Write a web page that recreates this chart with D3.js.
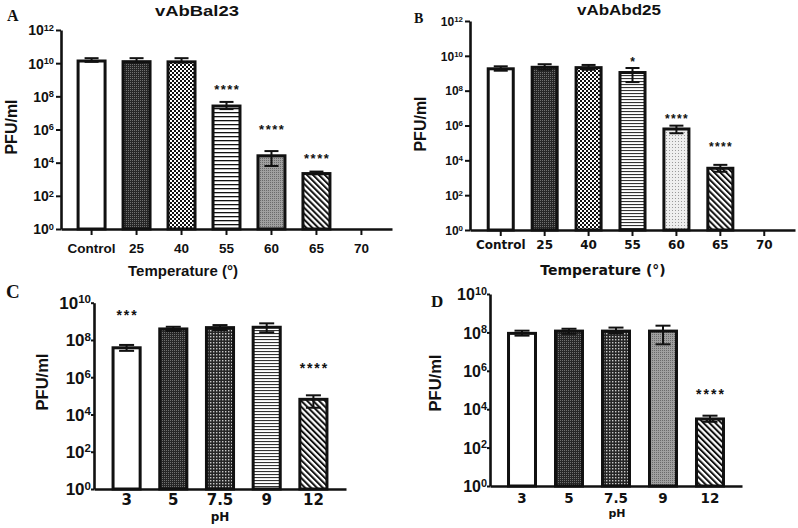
<!DOCTYPE html>
<html>
<head>
<meta charset="utf-8">
<script src="https://cdn.jsdelivr.net/npm/d3@7"></script>
<style>
  html, body { margin: 0; padding: 0; background: #fff; }
  svg { display: block; }
</style>
</head>
<body>
<svg id="chart" width="798" height="528"></svg>
<script>
// ---------------- DATA ----------------
const tempCategories = ["Control", "25", "40", "55", "60", "65", "70"];
const phCategories = ["3", "5", "7.5", "9", "12"];
const tempTickExponents = [0, 2, 4, 6, 8, 10, 12];
const phTickExponents = [0, 2, 4, 6, 8, 10];

// Panel A: vAbBal23 vs temperature (PFU/ml)
const bal23TempMean  = [1.35e10, 1.23e10, 1.2e10, 2.6e7, 2.6e4, 2.2e3, null];
const bal23TempUpper = [2.0e10, 2.0e10, 2.0e10, 4.6e7, 5.0e4, 2.9e3, null];
const bal23TempLower = [1.2e10, 1.1e10, 1.1e10, 1.7e7, 6.3e3, 2.0e3, null];
const bal23TempSig   = ["", "", "", "****", "****", "****", ""];
const bal23TempSigAt = [null, null, null, 3.6e8, 1.4e6, 2.5e4, null];

// Panel B: vAbAbd25 vs temperature
const abd25TempMean  = [1.8e9, 2.2e9, 2.1e9, 1.1e9, 6.3e5, 3.5e3, null];
const abd25TempUpper = [2.5e9, 3.3e9, 3.0e9, 2.0e9, 9.8e5, 5.5e3, null];
const abd25TempLower = [1.4e9, 1.6e9, 1.6e9, 3.1e8, 3.6e5, 2.2e3, null];
const abd25TempSig   = ["", "", "", "*", "****", "****", ""];
const abd25TempSigAt = [null, null, null, 5.9e9, 3.5e6, 8.7e4, null];

// Panel C: pH (vAbBal23)
const bal23PhMean  = [3.8e7, 3.9e8, 4.6e8, 4.8e8, 6.5e4];
const bal23PhUpper = [5.4e7, 5.1e8, 6.3e8, 7.8e8, 1.07e5];
const bal23PhLower = [2.6e7, 3.0e8, 3.4e8, 2.6e8, 2.3e4];
const bal23PhSig   = ["***", "", "", "", "****"];
const bal23PhSigAt = [2.9e9, null, null, null, 4.6e6];

// Panel D: pH (vAbAbd25)
const abd25PhMean  = [8.9e7, 1.17e8, 1.17e8, 1.17e8, 3.1e3];
const abd25PhUpper = [1.23e8, 1.55e8, 1.78e8, 2.24e8, 4.6e3];
const abd25PhLower = [6.8e7, 8.5e7, 8.9e7, 2.4e7, 2.2e3];
const abd25PhSig   = ["", "", "", "", "****"];
const abd25PhSigAt = [null, null, null, null, 8.1e4];

// ---------------- DRAWING ----------------
const svg = d3.select("#chart");
const defs = svg.append("defs");
const ARIAL = "'Liberation Sans', Arial, sans-serif";
const DEJAVU = "'DejaVu Sans', sans-serif";
const TIMES = "'Liberation Serif', 'Times New Roman', serif";

function pattern(id, w, h, draw, transform) {
  const p = defs.append("pattern").attr("id", id)
    .attr("patternUnits", "userSpaceOnUse").attr("width", w).attr("height", h);
  if (transform) p.attr("patternTransform", transform);
  draw(p);
}
pattern("p-dark", 2, 2, p => {
  p.append("rect").attr("width", 2).attr("height", 2).attr("fill", "#262626");
  p.append("rect").attr("width", 1).attr("height", 1).attr("fill", "#707070");
});
pattern("p-checker", 4, 4, p => {
  p.append("rect").attr("width", 4).attr("height", 4).attr("fill", "#fff");
  p.append("rect").attr("width", 2).attr("height", 2).attr("fill", "#111");
  p.append("rect").attr("x", 2).attr("y", 2).attr("width", 2).attr("height", 2).attr("fill", "#111");
});
pattern("p-darkcheck", 3, 3, p => {
  p.append("rect").attr("width", 3).attr("height", 3).attr("fill", "#262626");
  p.append("rect").attr("width", 1.4).attr("height", 1.4).attr("fill", "#c8c8c8");
});
pattern("p-hlines4", 4, 4, p => {
  p.append("rect").attr("width", 4).attr("height", 4).attr("fill", "#fff");
  p.append("rect").attr("width", 4).attr("height", 1.3).attr("fill", "#111");
});
pattern("p-hlines3", 3, 3, p => {
  p.append("rect").attr("width", 3).attr("height", 3).attr("fill", "#fff");
  p.append("rect").attr("width", 3).attr("height", 1.1).attr("fill", "#333");
});
pattern("p-graydots", 2, 2, p => {
  p.append("rect").attr("width", 2).attr("height", 2).attr("fill", "#a0a0a0");
  p.append("rect").attr("width", 1).attr("height", 1).attr("fill", "#6a6a6a");
});
pattern("p-lightdots", 3, 3, p => {
  p.append("rect").attr("width", 3).attr("height", 3).attr("fill", "#eeeeee");
  p.append("rect").attr("width", 1).attr("height", 1).attr("fill", "#9a9a9a");
});
pattern("p-diag", 4.2, 4.2, p => {
  p.append("rect").attr("width", 4.2).attr("height", 4.2).attr("fill", "#fff");
  p.append("rect").attr("width", 2).attr("height", 4.2).attr("fill", "#111");
}, "rotate(-45)");

function drawPanel(cfg) {
  const g = svg.append("g");
  const x = d3.scaleBand().domain(cfg.categories)
    .range([cfg.x0, cfg.x1]).paddingInner(cfg.pi).paddingOuter(cfg.po);
  const y = d3.scaleLog().domain([1, Math.pow(10, cfg.maxExp)])
    .range([cfg.yBottom, cfg.yTop]);

  const rows = cfg.categories.map((c, i) => ({
    c, v: cfg.mean[i], hi: cfg.upper[i], lo: cfg.lower[i],
    sig: cfg.sig[i], sigAt: cfg.sigAt[i], fill: cfg.fills[i]
  }));
  const valid = rows.filter(r => r.v != null);
  g.selectAll("rect.bar").data(valid).join("rect").attr("class", "bar")
    .attr("x", d => x(d.c)).attr("width", x.bandwidth())
    .attr("y", d => y(d.v)).attr("height", d => y(1) - y(d.v))
    .attr("fill", d => d.fill).attr("stroke", "#111").attr("stroke-width", cfg.barStroke);

  const cap = cfg.cap;
  const cx = d => x(d.c) + x.bandwidth() / 2;
  const eb = g.selectAll("g.err").data(valid).join("g").attr("class", "err")
    .attr("stroke", "#111").attr("stroke-width", 2);
  eb.append("line").attr("x1", cx).attr("x2", cx)
    .attr("y1", d => y(d.lo)).attr("y2", d => y(d.hi));
  eb.append("line").attr("x1", d => cx(d) - cap / 2).attr("x2", d => cx(d) + cap / 2)
    .attr("y1", d => y(d.hi)).attr("y2", d => y(d.hi));
  eb.append("line").attr("x1", d => cx(d) - cap / 2).attr("x2", d => cx(d) + cap / 2)
    .attr("y1", d => y(d.lo)).attr("y2", d => y(d.lo));

  g.selectAll("text.sig").data(rows.filter(r => r.sig)).join("text").attr("class", "sig")
    .attr("x", d => cx(d) + cfg.sigSpacing / 2)
    .attr("y", d => y(d.sigAt) + cfg.sigSize * 0.55)
    .attr("text-anchor", "middle")
    .attr("font-family", ARIAL).attr("font-weight", "bold")
    .attr("font-size", cfg.sigSize).attr("letter-spacing", cfg.sigSpacing)
    .attr("fill", "#111").text(d => d.sig);

  const yAxis = d3.axisLeft(y)
    .tickValues(cfg.tickExps.map(e => Math.pow(10, e)))
    .tickSizeInner(cfg.yTickSize).tickSizeOuter(0).tickPadding(cfg.yTickPad);
  const ya = g.append("g").attr("transform", `translate(${cfg.x0},0)`).call(yAxis);
  ya.select(".domain").attr("stroke", "#111").attr("stroke-width", 2.6);
  ya.selectAll(".tick line").attr("stroke", "#111").attr("stroke-width", 2);
  ya.selectAll(".tick text").each(function(d) {
    const t = d3.select(this);
    const e = Math.round(Math.log10(d));
    t.text(null).attr("dy", "0.35em")
      .attr("font-family", ARIAL).attr("font-weight", "bold")
      .attr("font-size", cfg.yTickFont).attr("fill", "#111");
    t.append("tspan").text("10");
    t.append("tspan").attr("dy", "-0.5em").attr("font-size", cfg.yTickFont * cfg.supScale).text(e);
  });

  const xAxis = d3.axisBottom(x).tickSizeInner(cfg.xTickSize).tickSizeOuter(0);
  const xa = g.append("g").attr("transform", `translate(0,${cfg.yBottom})`).call(xAxis);
  xa.select(".domain").attr("stroke", "#111").attr("stroke-width", 2.6);
  xa.selectAll(".tick line").attr("stroke", "#111").attr("stroke-width", 2);
  xa.selectAll(".tick text").attr("y", cfg.xLabelOffset).attr("dy", 0)
    .attr("font-family", cfg.xTickFamily).attr("font-weight", "bold")
    .attr("font-size", cfg.xTickFont).attr("fill", "#111");

  g.append("text").attr("x", cfg.xTitleX).attr("y", cfg.xTitleY)
    .attr("text-anchor", "middle").attr("font-family", cfg.xTitleFamily)
    .attr("font-weight", "bold").attr("font-size", cfg.xTitleFont).attr("fill", "#111")
    .text(cfg.xTitle);

  g.append("text").attr("transform", `translate(${cfg.yTitleX},${cfg.yTitleY}) rotate(-90)`)
    .attr("text-anchor", "middle").attr("font-family", ARIAL)
    .attr("font-weight", "bold").attr("font-size", cfg.yTitleFont).attr("fill", "#111")
    .text("PFU/ml");

  if (cfg.title) {
    g.append("text").attr("x", cfg.titleX).attr("y", cfg.titleY)
      .attr("text-anchor", "middle").attr("font-family", ARIAL)
      .attr("font-weight", "bold").attr("font-size", 14).attr("fill", "#111")
      .attr("textLength", cfg.titleLen).attr("lengthAdjust", "spacingAndGlyphs")
      .text(cfg.title);
  }
  g.append("text").attr("x", cfg.letterX).attr("y", cfg.letterY)
    .attr("font-family", TIMES).attr("font-weight", "bold")
    .attr("font-size", cfg.letterFont).attr("fill", "#111")
    .text(cfg.letter);
}

drawPanel({
  categories: tempCategories, mean: bal23TempMean, upper: bal23TempUpper, lower: bal23TempLower,
  sig: bal23TempSig, sigAt: bal23TempSigAt,
  fills: ["#fff", "url(#p-dark)", "url(#p-checker)", "url(#p-hlines4)", "url(#p-graydots)", "url(#p-diag)", "#fff"],
  x0: 61, x1: 392, pi: 0.4, po: 0.38, yTop: 30, yBottom: 229, maxExp: 12, tickExps: tempTickExponents,
  barStroke: 3, cap: 14, sigSize: 13, sigSpacing: 1.5,
  yTickSize: 5, yTickPad: 2, yTickFont: 14, supScale: 0.66,
  xTickSize: 6, xLabelOffset: 24, xTickFamily: ARIAL, xTickFont: 13.5,
  xTitle: "Temperature (°)", xTitleX: 183, xTitleY: 276, xTitleFamily: ARIAL, xTitleFont: 15,
  yTitleX: 17, yTitleY: 127, yTitleFont: 16,
  title: "vAbBal23", titleX: 197, titleY: 15.5, titleLen: 84,
  letter: "A", letterX: 7, letterY: 21, letterFont: 16
});

drawPanel({
  categories: tempCategories, mean: abd25TempMean, upper: abd25TempUpper, lower: abd25TempLower,
  sig: abd25TempSig, sigAt: abd25TempSigAt,
  fills: ["#fff", "url(#p-dark)", "url(#p-checker)", "url(#p-hlines3)", "url(#p-lightdots)", "url(#p-diag)", "#fff"],
  x0: 470, x1: 795, pi: 0.43, po: 0.415, yTop: 21, yBottom: 230, maxExp: 12, tickExps: tempTickExponents,
  barStroke: 3, cap: 14, sigSize: 12, sigSpacing: 1.3,
  yTickSize: 5, yTickPad: 2, yTickFont: 12, supScale: 0.66,
  xTickSize: 6, xLabelOffset: 19, xTickFamily: DEJAVU, xTickFont: 12,
  xTitle: "Temperature (°)", xTitleX: 603, xTitleY: 275, xTitleFamily: DEJAVU, xTitleFont: 14,
  yTitleX: 426, yTitleY: 124, yTitleFont: 16,
  title: "vAbAbd25", titleX: 619, titleY: 15, titleLen: 84,
  letter: "B", letterX: 414, letterY: 23, letterFont: 14
});

drawPanel({
  categories: phCategories, mean: bal23PhMean, upper: bal23PhUpper, lower: bal23PhLower,
  sig: bal23PhSig, sigAt: bal23PhSigAt,
  fills: ["#fff", "url(#p-dark)", "url(#p-darkcheck)", "url(#p-hlines3)", "url(#p-diag)"],
  x0: 94, x1: 346, pi: 0.42, po: 0.408, yTop: 302.7, yBottom: 489, maxExp: 10, tickExps: phTickExponents,
  barStroke: 3, cap: 15, sigSize: 14, sigSpacing: 1.9,
  yTickSize: 3, yTickPad: 0, yTickFont: 17, supScale: 0.68,
  xTickSize: 0, xLabelOffset: 16, xTickFamily: DEJAVU, xTickFont: 15,
  xTitle: "pH", xTitleX: 220, xTitleY: 521, xTitleFamily: DEJAVU, xTitleFont: 12,
  yTitleX: 48, yTitleY: 382, yTitleFont: 16.5,
  title: null,
  letter: "C", letterX: 6, letterY: 298, letterFont: 19
});

drawPanel({
  categories: phCategories, mean: abd25PhMean, upper: abd25PhUpper, lower: abd25PhLower,
  sig: abd25PhSig, sigAt: abd25PhSigAt,
  fills: ["#fff", "url(#p-dark)", "url(#p-darkcheck)", "url(#p-graydots)", "url(#p-diag)"],
  x0: 490, x1: 742, pi: 0.426, po: 0.394, yTop: 294, yBottom: 486, maxExp: 10, tickExps: phTickExponents,
  barStroke: 3, cap: 15, sigSize: 14, sigSpacing: 2,
  yTickSize: 3, yTickPad: 0, yTickFont: 16, supScale: 0.68,
  xTickSize: 0, xLabelOffset: 17, xTickFamily: DEJAVU, xTickFont: 13.5,
  xTitle: "pH", xTitleX: 617, xTitleY: 517, xTitleFamily: DEJAVU, xTitleFont: 11,
  yTitleX: 441, yTitleY: 383, yTitleFont: 16.5,
  title: null,
  letter: "D", letterX: 431, letterY: 307, letterFont: 17
});
</script>
</body>
</html>
